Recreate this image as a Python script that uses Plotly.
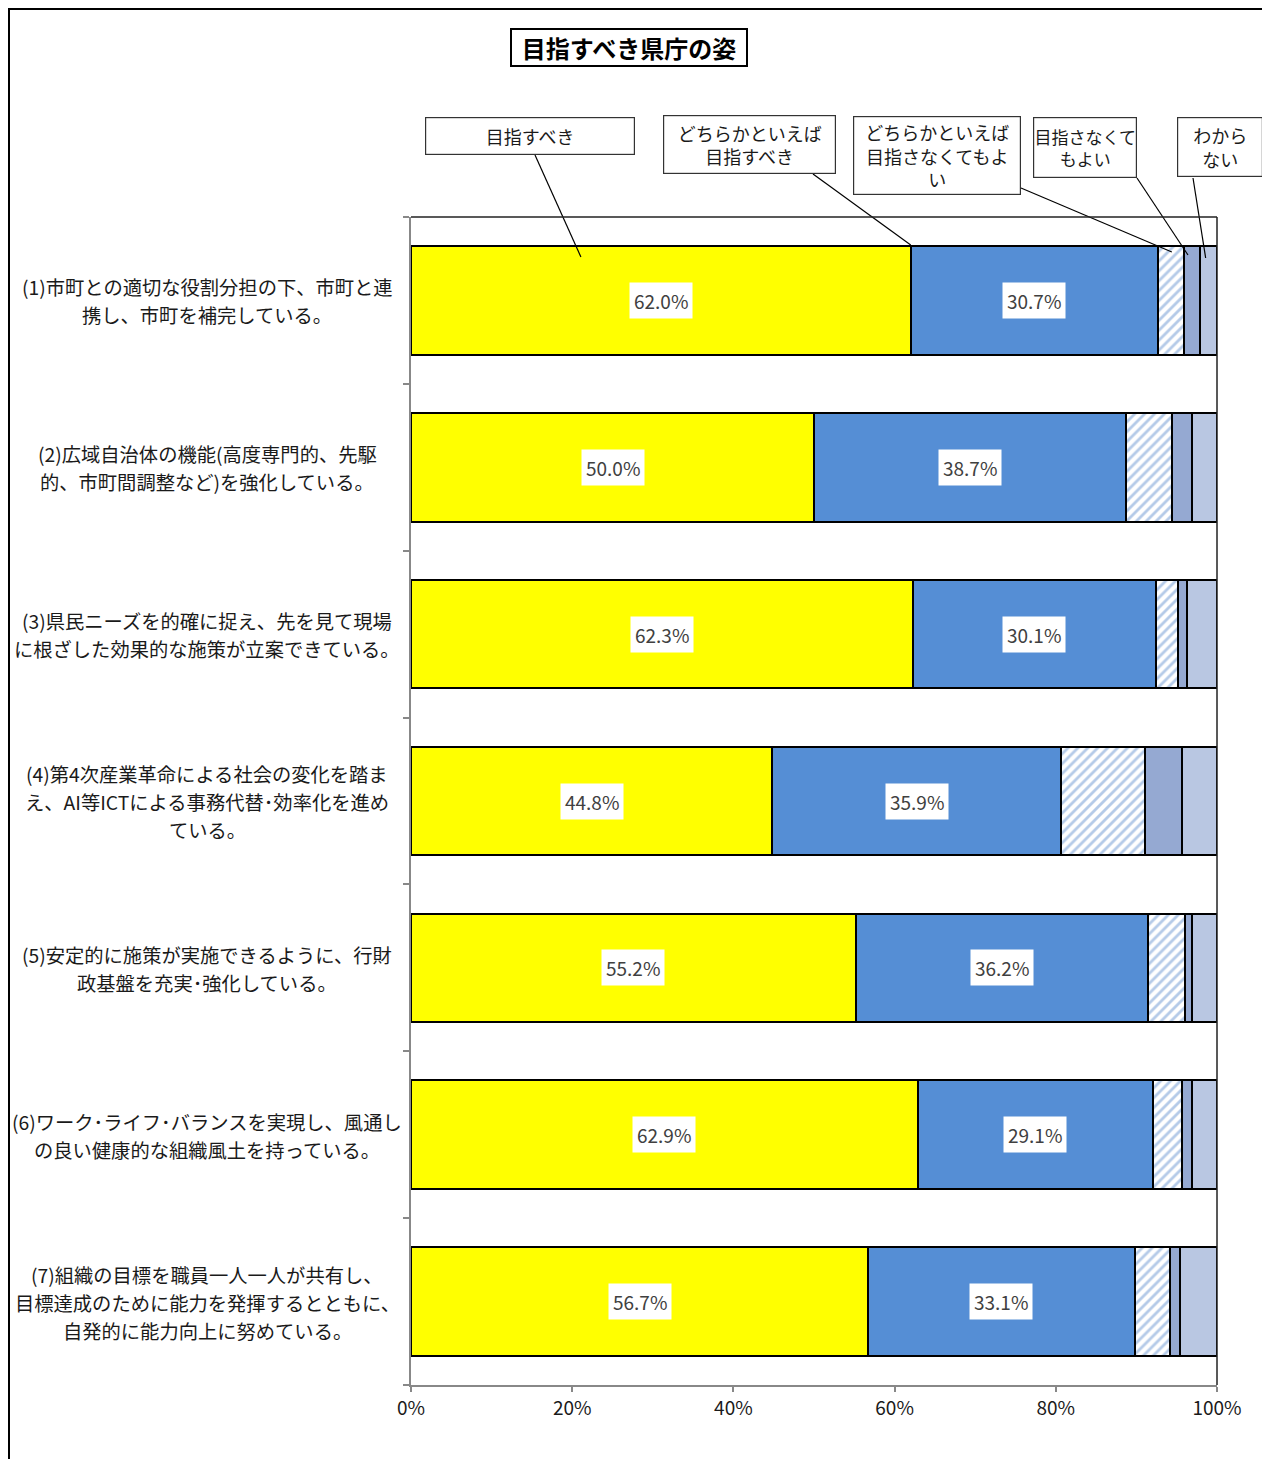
import plotly.graph_objects as go

# ---------------- data ----------------
categories = [
    ["(1)市町との適切な役割分担の下、市町と連", "携し、市町を補完している。"],
    ["(2)広域自治体の機能(高度専門的、先駆", "的、市町間調整など)を強化している。"],
    ["(3)県民ニーズを的確に捉え、先を見て現場", "に根ざした効果的な施策が立案できている。"],
    ["(4)第4次産業革命による社会の変化を踏ま", "え、AI等ICTによる事務代替･効率化を進め", "ている。"],
    ["(5)安定的に施策が実施できるように、行財", "政基盤を充実･強化している。"],
    ["(6)ワーク･ライフ･バランスを実現し、風通し", "の良い健康的な組織風土を持っている。"],
    ["(7)組織の目標を職員一人一人が共有し、", "目標達成のために能力を発揮するとともに、", "自発的に能力向上に努めている。"],
]
series_names = ["目指すべき", "どちらかといえば<br>目指すべき", "どちらかといえば<br>目指さなくてもよ<br>い",
                "目指さなくて<br>もよい", "わから<br>ない"]
mezasu = [62.0, 50.0, 62.3, 44.8, 55.2, 62.9, 56.7]
dochira_mezasu = [30.7, 38.7, 30.1, 35.9, 36.2, 29.1, 33.1]
dochira_nakute = [3.2, 5.7, 2.7, 10.4, 4.6, 3.7, 4.4]
nakute = [2.0, 2.5, 1.2, 4.6, 0.9, 1.2, 1.2]
wakaranai = [2.1, 3.1, 3.7, 4.3, 3.1, 3.1, 4.6]
series_values = [mezasu, dochira_mezasu, dochira_nakute, nakute, wakaranai]
labelled_series = [0, 1]
x_tickvals = [0, 20, 40, 60, 80, 100]
x_ticktext = ["0%", "20%", "40%", "60%", "80%", "100%"]
title_text = "目指すべき県庁の姿"

# ---------------- style ----------------
FONT = "Noto Sans CJK JP"
colors = ["#FFFF00", "#558ED5", "#FFFFFF", "#95A9D2", "#B9C7E2"]
W, H = 1262, 1459
L, R, T, B = 411, 45, 217, 74
PW, PH = W - L - R, H - T - B
n = len(categories)
ypos = list(range(n))


def px_x(px):
    return (px - L) / PW


def px_y(py):
    return (H - B - py) / PH


fig = go.Figure()
for k, vals in enumerate(series_values):
    marker = dict(color=colors[k], line=dict(color="black", width=2))
    if k == 2:
        marker["pattern"] = dict(shape="/", fgcolor="#B4CAE8", bgcolor="#FFFFFF",
                                 size=7, solidity=0.4, fillmode="replace")
    fig.add_trace(go.Bar(
        x=vals, y=ypos, orientation="h", width=0.65, marker=marker,
        name=series_names[k].replace("<br>", ""), showlegend=False, hoverinfo="skip",
    ))

annotations = []
# data labels
for i in range(n):
    cum = 0.0
    for k, vals in enumerate(series_values):
        v = vals[i]
        if k in labelled_series:
            annotations.append(dict(
                x=cum + v / 2, y=i, xref="x", yref="y", text=f"{v:.1f}%",
                showarrow=False, bgcolor="white", borderpad=4,
                font=dict(family=FONT, size=19, color="#404040"),
            ))
        cum += v

# category labels (one annotation per line)
LINE_H = 28
for i, lines in enumerate(categories):
    m = len(lines)
    for j, txt in enumerate(lines):
        annotations.append(dict(
            x=px_x(207), y=i, xref="paper", yref="y", text=txt, showarrow=False,
            xanchor="center", yanchor="middle",
            yshift=-(j - (m - 1) / 2) * LINE_H - 1,
            font=dict(family=FONT, size=19.3, color="#1a1a1a"),
        ))

# title
annotations.append(dict(
    x=px_x(629), y=px_y(47.5), xref="paper", yref="paper", text=f"<b>{title_text}</b>",
    showarrow=False, xanchor="center", yanchor="middle", width=232, height=33,
    bordercolor="black", borderwidth=2, bgcolor="white",
    font=dict(family=FONT, size=24, color="black"),
))

# callout boxes (legend)
boxes = [  # (left px, top px, width, height)
    (425, 117, 210, 38),
    (663, 115, 173, 59),
    (853, 116, 168, 79),
    (1033, 117, 104, 61),
    (1177, 117, 86, 60),
]
box_font = [18, 18, 18, 17, 18]
starts = [(535, 155), (813, 174), (1021, 188), (1137, 178), (1193, 178)]
target_frac = [0.34, 0.0, 0.53, 0.25, 0.33]
target_y_px = [257, 245, 252, 255, 258]
shapes = []
cum = 0.0
for k, (bx, by, bw, bh) in enumerate(boxes):
    annotations.append(dict(
        x=px_x(bx + bw / 2), y=px_y(by + bh / 2), xref="paper", yref="paper",
        text=series_names[k], showarrow=False, xanchor="center", yanchor="middle",
        width=bw - 4, height=bh - 4, borderpad=1, bordercolor="#333", borderwidth=1.2,
        bgcolor="white", font=dict(family=FONT, size=box_font[k], color="#1a1a1a"),
    ))
    v = series_values[k][0]
    tx = (cum + target_frac[k] * v) / 100
    cum += v
    sx, sy = starts[k]
    shapes.append(dict(type="line", xref="paper", yref="paper",
                       x0=px_x(sx), y0=px_y(sy), x1=tx, y1=px_y(target_y_px[k]),
                       line=dict(color="black", width=1.2), layer="above"))

# plot area top / right border
shapes.append(dict(type="line", xref="paper", yref="paper", x0=0, x1=1, y0=1, y1=1,
                   line=dict(color="#222", width=1.5)))
shapes.append(dict(type="line", xref="paper", yref="paper", x0=1, x1=1, y0=0, y1=1,
                   line=dict(color="#222", width=1.5)))
# outer chart frame
shapes.append(dict(type="rect", xref="paper", yref="paper",
                   x0=px_x(9), x1=px_x(1275), y0=px_y(1475), y1=px_y(9),
                   line=dict(color="black", width=2), layer="below"))

fig.update_layout(
    width=W, height=H, margin=dict(l=L, r=R, t=T, b=B, pad=0),
    paper_bgcolor="white", plot_bgcolor="white", barmode="stack", bargap=0,
    annotations=annotations, shapes=shapes,
    font=dict(family=FONT),
)
fig.update_xaxes(
    range=[0, 100], tickvals=x_tickvals, ticktext=x_ticktext, showgrid=False, zeroline=False,
    showline=True, linecolor="#888", linewidth=2, ticks="outside", ticklen=5,
    tickcolor="#888", tickwidth=2, tickfont=dict(family=FONT, size=19, color="#1a1a1a"),
)
fig.update_yaxes(
    range=[n - 0.5, -0.5], tickvals=[i - 0.5 for i in range(n + 1)], showticklabels=False,
    showgrid=False, zeroline=False, showline=True, linecolor="#888", linewidth=2,
    ticks="outside", ticklen=6, tickcolor="#888", tickwidth=2,
)

fig.write_html("out.html")
